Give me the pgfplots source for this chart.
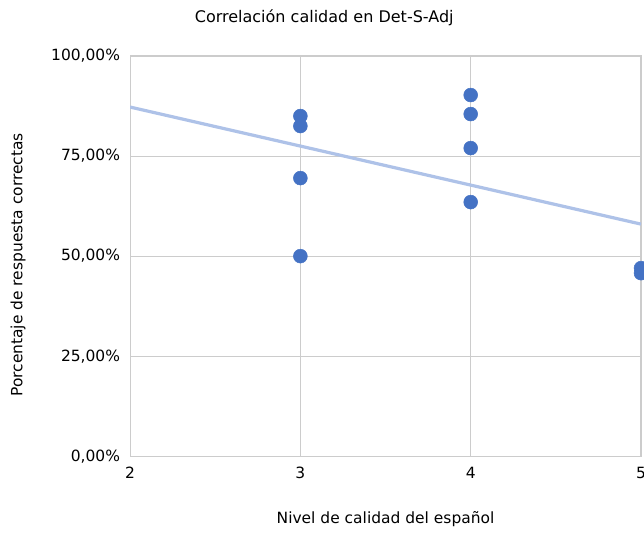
\documentclass[border=0pt]{standalone}
\usepackage{pgfplots}
\pgfplotsset{compat=1.18}
\usepackage{fontspec}
\setmainfont{DejaVu Sans}
\definecolor{ptblue}{HTML}{4472C4}
\definecolor{trend}{HTML}{AEC2E8}
\definecolor{gridc}{HTML}{CCCCCC}
\definecolor{axc}{HTML}{666666}
\begin{document}
\begin{tikzpicture}
\begin{axis}[
  name=ax,
  scale only axis,
  width=383pt, height=300pt,
  xmin=2, xmax=5, ymin=0, ymax=100,
  xtick={2,3,4,5}, xticklabels={2,3,4,5},
  ytick={0,25,50,75,100},
  yticklabels={{0,00\%},{25,00\%},{50,00\%},{75,00\%},{100,00\%}},
  grid=major,
  major grid style={gridc, line width=0.8pt},
  x axis line style={axc, line width=1pt},
  y axis line style={gridc, line width=0.8pt},
  tick style={draw=none},
  every tick label/.style={font=\fontsize{11.6}{13}\selectfont},
  xticklabel style={anchor=center, yshift=-12.5pt},
  yticklabel style={anchor=east, xshift=-4pt},
  clip=true,
  title={Correlación calidad en Det-S-Adj},
  title style={font=\fontsize{12}{14}\selectfont, at={(axis description cs:0.38,1)}, anchor=center, yshift=23pt},
  xlabel={Nivel de calidad del español},
  ylabel={Porcentaje de respuesta correctas},
  label style={font=\fontsize{11.6}{13}\selectfont},
  xlabel style={at={(axis description cs:0.5,0)}, anchor=center, yshift=-47pt},
  ylabel style={at={(axis description cs:-0.219,0.478)}, anchor=center},
]
\addplot[trend, line width=2.4pt, no marks] coordinates {(2,87.25) (5,58)};
\addplot[only marks, mark=*, mark size=5.2pt, mark options={fill=ptblue, draw=ptblue}] coordinates {
(3,85) (3,82.5) (3,69.5) (3,50)
(4,90.25) (4,85.5) (4,77) (4,63.5)
(5,47) (5,45.75)
};
\end{axis}
\pgfresetboundingbox
\path ([xshift=-97.5pt,yshift=-57pt]ax.south west) rectangle ([xshift=2.25pt,yshift=42pt]ax.north east);
\end{tikzpicture}
\end{document}
